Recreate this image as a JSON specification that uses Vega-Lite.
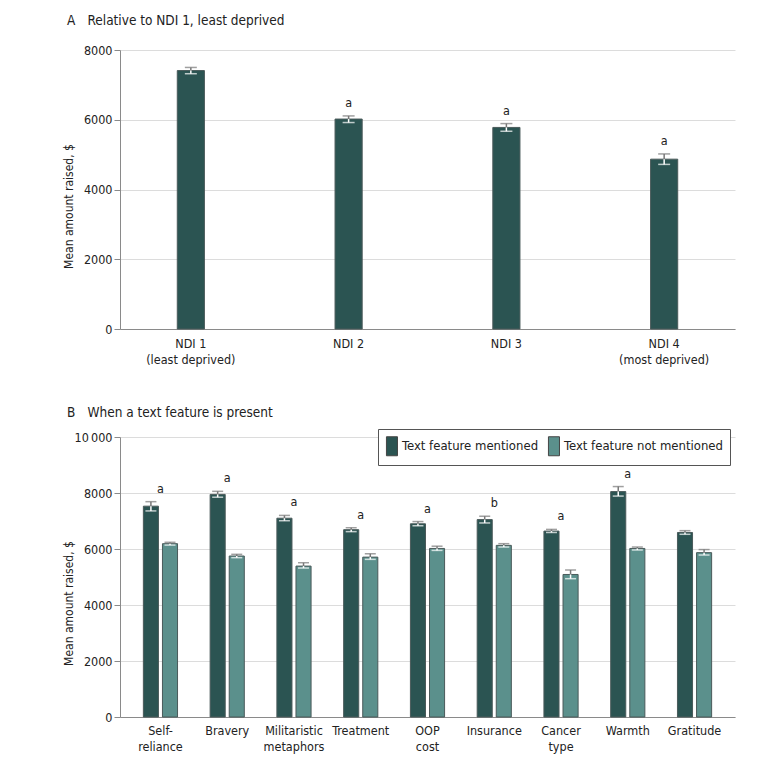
{
  "$schema": "https://vega.github.io/schema/vega-lite/v6.json",
  "padding": {"left": 62, "top": 13, "right": 30, "bottom": 10},
  "config": {
    "font": "DejaVu Sans Condensed, Lato, sans-serif",
    "view": {"stroke": null},
    "axis": {
      "labelFont": "DejaVu Sans Condensed, Lato, sans-serif",
      "titleFont": "DejaVu Sans Condensed, Lato, sans-serif",
      "labelFontSize": 12.5,
      "titleFontSize": 12,
      "titleFontWeight": "normal",
      "labelColor": "#222",
      "titleColor": "#222",
      "domainColor": "#8a8a8a",
      "tickColor": "#8a8a8a",
      "gridColor": "#dcdcdc"
    },
    "legend": {"labelFont": "DejaVu Sans Condensed, Lato, sans-serif", "labelFontSize": 13, "labelColor": "#222"}
  },
  "resolve": {"legend": {"color": "independent"}},
  "datasets": {
    "ndi": [
      {"ndi": "NDI 1|(least deprived)", "mean": 7410, "lo": 7320, "hi": 7500},
      {"ndi": "NDI 2", "mean": 6020, "lo": 5920, "hi": 6110, "sig": "a"},
      {"ndi": "NDI 3", "mean": 5780, "lo": 5670, "hi": 5890, "sig": "a"},
      {"ndi": "NDI 4|(most deprived)", "mean": 4870, "lo": 4720, "hi": 5020, "sig": "a"}
    ],
    "features": [
      {"feature": "Self-|reliance", "group": "Text feature mentioned", "mean": 7530, "lo": 7360, "hi": 7690, "sig": "a"},
      {"feature": "Self-|reliance", "group": "Text feature not mentioned", "mean": 6190, "lo": 6140, "hi": 6240},
      {"feature": "Bravery", "group": "Text feature mentioned", "mean": 7950, "lo": 7850, "hi": 8060, "sig": "a"},
      {"feature": "Bravery", "group": "Text feature not mentioned", "mean": 5750, "lo": 5690, "hi": 5810},
      {"feature": "Militaristic|metaphors", "group": "Text feature mentioned", "mean": 7100, "lo": 7010, "hi": 7200, "sig": "a"},
      {"feature": "Militaristic|metaphors", "group": "Text feature not mentioned", "mean": 5390, "lo": 5320, "hi": 5510},
      {"feature": "Treatment", "group": "Text feature mentioned", "mean": 6690, "lo": 6620, "hi": 6760, "sig": "a"},
      {"feature": "Treatment", "group": "Text feature not mentioned", "mean": 5710, "lo": 5630, "hi": 5830},
      {"feature": "OOP|cost", "group": "Text feature mentioned", "mean": 6900, "lo": 6830, "hi": 6980, "sig": "a"},
      {"feature": "OOP|cost", "group": "Text feature not mentioned", "mean": 6020, "lo": 5950, "hi": 6100},
      {"feature": "Insurance", "group": "Text feature mentioned", "mean": 7050, "lo": 6930, "hi": 7170, "sig": "b"},
      {"feature": "Insurance", "group": "Text feature not mentioned", "mean": 6130, "lo": 6070, "hi": 6190},
      {"feature": "Cancer|type", "group": "Text feature mentioned", "mean": 6640, "lo": 6590, "hi": 6700, "sig": "a"},
      {"feature": "Cancer|type", "group": "Text feature not mentioned", "mean": 5090, "lo": 4940, "hi": 5250},
      {"feature": "Warmth", "group": "Text feature mentioned", "mean": 8050, "lo": 7890, "hi": 8230, "sig": "a"},
      {"feature": "Warmth", "group": "Text feature not mentioned", "mean": 6020, "lo": 5965, "hi": 6070},
      {"feature": "Gratitude", "group": "Text feature mentioned", "mean": 6590, "lo": 6525, "hi": 6655},
      {"feature": "Gratitude", "group": "Text feature not mentioned", "mean": 5870, "lo": 5785, "hi": 5980}
    ]
  },
  "spacing": 40,
  "vconcat": [
    {
      "width": 615,
      "height": 279,
      "title": {"text": "A\u2003Relative to NDI 1, least deprived", "anchor": "start", "frame": "group", "dx": -53, "fontSize": 13.5, "fontWeight": "normal", "font": "DejaVu Sans Condensed, Lato, sans-serif", "color": "#222", "offset": 17},
      "data": {"name": "ndi"},
      "encoding": {
        "x": {
          "field": "ndi", "type": "nominal", "sort": null,
          "scale": {"paddingInner": 0.828, "paddingOuter": 0.363},
          "axis": {"title": null, "labelAngle": 0, "labelExpr": "split(datum.label, '|')", "ticks": false, "labelPadding": 8, "labelLineHeight": 16}
        }
      },
      "layer": [
        {
          "mark": {"type": "bar", "color": "#2b5452", "stroke": "#4a5a5a", "strokeWidth": 1},
          "encoding": {
            "y": {
              "field": "mean", "type": "quantitative",
              "scale": {"domain": [0, 8000]},
              "axis": {"title": "Mean amount raised, $", "values": [0, 2000, 4000, 6000, 8000], "format": "d", "tickSize": 6, "labelPadding": 2, "titleX": -45, "titleY": 156}
            }
          }
        },
        {"mark": {"type": "rule", "color": "#777", "strokeWidth": 1.5}, "encoding": {"y": {"field": "mean", "type": "quantitative"}, "y2": {"field": "hi"}}},
        {"mark": {"type": "rule", "color": "#ffffff", "strokeWidth": 1.5}, "encoding": {"y": {"field": "lo", "type": "quantitative"}, "y2": {"field": "mean"}}},
        {"mark": {"type": "tick", "color": "#777", "size": 12, "thickness": 1.5}, "encoding": {"y": {"field": "hi", "type": "quantitative"}}},
        {"mark": {"type": "tick", "color": "#ffffff", "size": 12, "thickness": 1.5}, "encoding": {"y": {"field": "lo", "type": "quantitative"}}},
        {
          "transform": [{"filter": "isValid(datum.sig)"}],
          "mark": {"type": "text", "dy": -9, "baseline": "alphabetic", "fontSize": 12.5, "color": "#222"},
          "encoding": {"y": {"field": "hi", "type": "quantitative"}, "text": {"field": "sig"}}
        }
      ]
    },
    {
      "width": 615,
      "height": 280,
      "title": {"text": "B\u2003When a text feature is present", "anchor": "start", "frame": "group", "dx": -53, "fontSize": 13.5, "fontWeight": "normal", "font": "DejaVu Sans Condensed, Lato, sans-serif", "color": "#222", "offset": 9},
      "data": {"name": "features"},
      "encoding": {
        "x": {
          "field": "feature", "type": "nominal", "sort": null,
          "scale": {"paddingInner": 0.428, "paddingOuter": 0.32},
          "axis": {"title": null, "labelAngle": 0, "labelExpr": "split(datum.label, '|')", "ticks": false, "labelPadding": 7, "labelLineHeight": 16}
        }
      },
      "layer": [
        {
          "mark": {"type": "bar", "stroke": "#4a5a5a", "strokeWidth": 1},
          "encoding": {
            "xOffset": {"field": "group", "type": "nominal", "scale": {"paddingInner": 0.21, "paddingOuter": 0.105}},
            "color": {
              "field": "group", "type": "nominal",
              "scale": {"domain": ["Text feature mentioned", "Text feature not mentioned"], "range": ["#2b5452", "#5b908c"]},
              "legend": {
                "title": null, "orient": "none", "legendX": 258, "legendY": -8, "direction": "horizontal",
                "symbolType": "M-0.9,-1H0.26V1H-0.9Z", "symbolSize": 361, "symbolStrokeColor": "#444", "symbolStrokeWidth": 1,
                "strokeColor": "#555", "padding": 7, "columnPadding": 7, "labelOffset": -3, "fillColor": "#ffffff"
              }
            },
            "y": {
              "field": "mean", "type": "quantitative",
              "scale": {"domain": [0, 10000]},
              "axis": {"title": "Mean amount raised, $", "values": [0, 2000, 4000, 6000, 8000, 10000], "labelExpr": "datum.value >= 10000 ? '10\u2009000' : format(datum.value, 'd')", "tickSize": 6, "labelPadding": 2, "titleX": -45, "titleY": 166}
            }
          }
        },
        {"mark": {"type": "rule", "color": "#777", "strokeWidth": 1.5}, "encoding": {"xOffset": {"field": "group", "type": "nominal"}, "y": {"field": "mean", "type": "quantitative"}, "y2": {"field": "hi"}}},
        {"mark": {"type": "rule", "color": "#ffffff", "strokeWidth": 1.5}, "encoding": {"xOffset": {"field": "group", "type": "nominal"}, "y": {"field": "lo", "type": "quantitative"}, "y2": {"field": "mean"}}},
        {"mark": {"type": "tick", "color": "#777", "size": 11, "thickness": 1.5}, "encoding": {"xOffset": {"field": "group", "type": "nominal"}, "y": {"field": "hi", "type": "quantitative"}}},
        {"mark": {"type": "tick", "color": "#ffffff", "size": 11, "thickness": 1.5}, "encoding": {"xOffset": {"field": "group", "type": "nominal"}, "y": {"field": "lo", "type": "quantitative"}}},
        {
          "transform": [{"filter": "isValid(datum.sig)"}],
          "mark": {"type": "text", "dy": -9, "baseline": "alphabetic", "fontSize": 12.5, "color": "#222"},
          "encoding": {"y": {"field": "hi", "type": "quantitative"}, "text": {"field": "sig"}}
        }
      ]
    }
  ]
}
